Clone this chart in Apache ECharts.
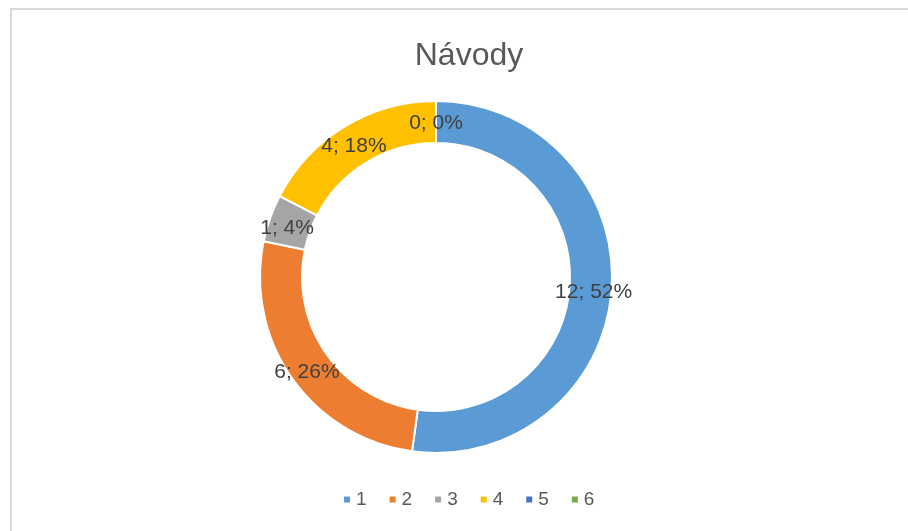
<!DOCTYPE html>
<html lang="cs">
<head>
    <meta charset="UTF-8">
    <title>Návody</title>
    <script src="https://cdn.jsdelivr.net/npm/echarts@6/dist/echarts.min.js"></script>
    <style>
        body { margin: 0; background: #fff; }
        #main { width: 908px; height: 531px; }
    </style>
</head>
<body>
<div id="main"></div>
<script>
    // data
    let categories = ['1', '2', '3', '4', '5', '6'];
    let values = [12, 6, 1, 4, 0, 0];
    let colors = ['#5B9BD5', '#ED7D31', '#A5A5A5', '#FFC000', '#4472C4', '#70AD47'];

    let chart = echarts.init(document.getElementById('main'));

    let data = categories.map((name, i) => {
        return {
            name: name,
            value: values[i],
            itemStyle: { color: colors[i] }
        }
    });

    let font = '"Liberation Sans", Arial, sans-serif';

    let option = {
        animation: false,
        graphic: [
            {
                type: 'rect',
                shape: { x: 11, y: 9, width: 1200, height: 1200 },
                style: { fill: 'none', stroke: '#d9d9d9', lineWidth: 2 },
                silent: true
            }
        ],
        title: {
            text: 'Návody',
            left: 464,
            top: 35,
            textAlign: 'center',
            textStyle: {
                color: '#595959',
                fontWeight: 'normal',
                fontSize: 32,
                fontFamily: font
            }
        },
        legend: {
            data: categories,
            left: 337,
            top: 485,
            icon: 'rect',
            itemWidth: 8,
            itemHeight: 8,
            itemGap: 21,
            textStyle: {
                color: '#595959',
                fontSize: 19,
                fontFamily: font
            }
        },
        series: [
            {
                type: 'pie',
                center: [436, 277],
                radius: [134, 176],
                startAngle: 90,
                clockwise: true,
                percentPrecision: 0,
                avoidLabelOverlap: false,
                itemStyle: {
                    borderColor: '#fff',
                    borderWidth: 2
                },
                label: {
                    show: true,
                    position: 'inside',
                    formatter: '{c}; {d}%',
                    color: '#404040',
                    fontSize: 21,
                    fontFamily: font,
                    textBorderWidth: 0,
                    offset: [0, 4]
                },
                labelLine: { show: false },
                emphasis: { disabled: true },
                data: data
            }
        ]
    };

    chart.setOption(option);
</script>
</body>
</html>
